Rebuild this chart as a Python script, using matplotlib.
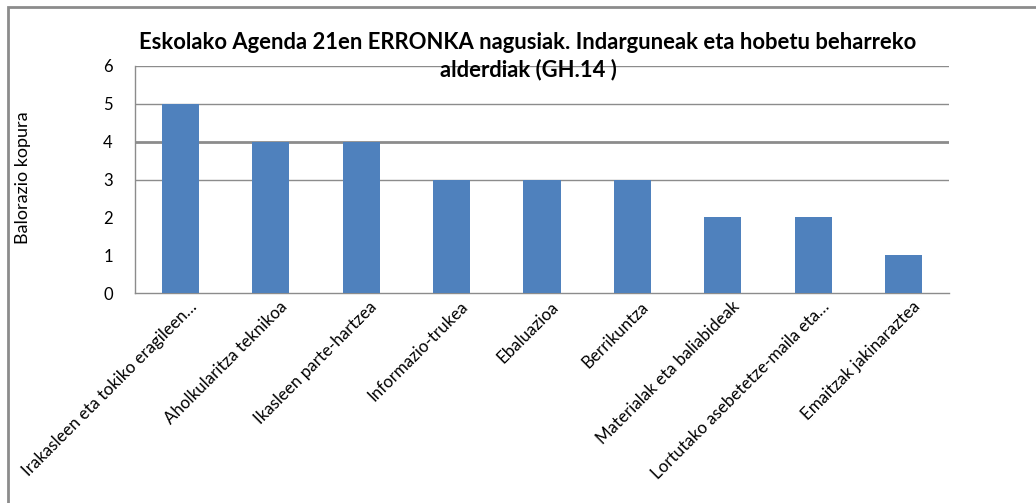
import matplotlib
matplotlib.use("Agg")
import matplotlib.pyplot as plt
from matplotlib.patches import Rectangle
from matplotlib.transforms import ScaledTranslation

plt.rcParams['font.family'] = ['Lato', 'DejaVu Sans']

categories = ["Irakasleen eta tokiko eragileen…",
              "Aholkularitza teknikoa",
              "Ikasleen parte-hartzea",
              "Informazio-trukea",
              "Ebaluazioa",
              "Berrikuntza",
              "Materialak eta baliabideak",
              "Lortutako asebetetze-maila eta…",
              "Emaitzak jakinaraztea"]
values = [5, 4, 4, 3, 3, 3, 2, 2, 1]
yticks = [0, 1, 2, 3, 4, 5, 6]
grid_levels = [3, 4, 5, 6]

title = ("Eskolako Agenda 21en ERRONKA nagusiak. Indarguneak eta hobetu beharreko\n"
         "alderdiak (GH.14 )")
ylabel = "Balorazio kopura"

W, H = 1036, 503
fig = plt.figure(figsize=(W / 100, H / 100), dpi=100)
ax = fig.add_axes([135 / W, 1 - 293 / H, (949 - 135) / W, (293 - 66) / H])

x = range(len(categories))
ax.bar(x, values, width=0.41, color="#4F81BD", zorder=3)

# gridlines (the one at 4 shows heavier in the original)
for g in grid_levels:
    ax.axhline(g, color="#8c8c8c", lw=2.0 if g == 4 else 1.0, zorder=1)

ax.set_xlim(-0.5, len(categories) - 0.5)
ax.set_ylim(0, 6)
ax.set_yticks(yticks)
ax.set_yticklabels([str(t) for t in yticks], fontsize=12)
ax.set_xticks(list(x))
ax.set_xticklabels(categories, rotation=45, ha="right", va="top",
                   rotation_mode="anchor", fontsize=12.2)
ax.tick_params(axis="both", length=0)
ax.tick_params(axis="y", pad=16)
ax.tick_params(axis="x", pad=4)
for lab in ax.get_xticklabels():
    lab.set_transform(lab.get_transform() + ScaledTranslation(0.08, 0, fig.dpi_scale_trans))

for s in ["top", "right"]:
    ax.spines[s].set_visible(False)
for s in ["left", "bottom"]:
    ax.spines[s].set_color("#8c8c8c")
    ax.spines[s].set_linewidth(1.0)

fig.text(528 / W, 1 - 32 / H, title, ha="center", va="top", fontsize=15.8,
         fontweight="bold", linespacing=1.32)
fig.text(23 / W, 1 - 178 / H, ylabel, rotation=90, ha="center", va="center",
         fontsize=13)

# outer chart frame
fig.patches.append(Rectangle((8 / W, -0.1), 1.2, 1 - 7 / H + 0.1,
                             transform=fig.transFigure, fill=False,
                             edgecolor="#8c8c8c", lw=2))

fig.savefig("out.png", dpi=100)
